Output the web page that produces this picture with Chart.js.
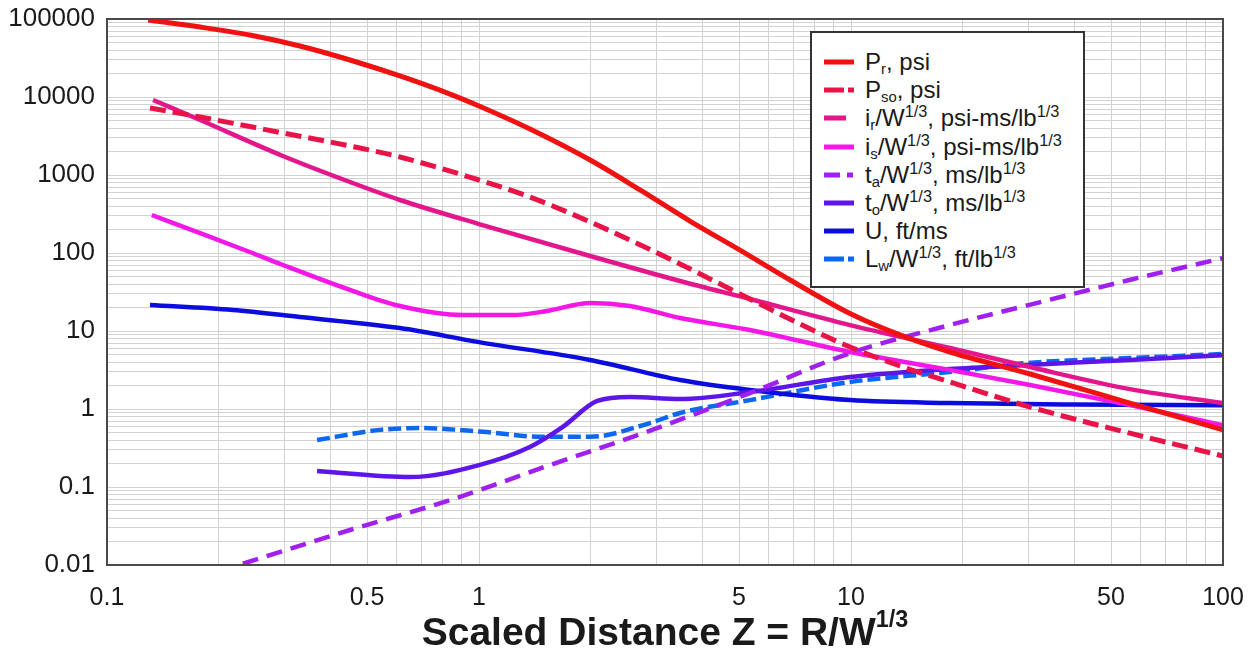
<!DOCTYPE html>
<html><head><meta charset="utf-8">
<script src="https://cdn.jsdelivr.net/npm/chart.js@4.4.0/dist/chart.umd.min.js"></script>
<style>
html,body{margin:0;padding:0;background:#fff;}
#wrap{position:relative;width:1255px;height:654px;overflow:hidden;}
#c{position:absolute;left:0;top:0;}
#legend{position:absolute;left:810px;top:31px;width:275px;height:257px;border:2px solid #333;background:#fff;box-sizing:border-box;font-family:"Liberation Sans",Arial,sans-serif;font-size:24px;color:#1a1a1a;}
.row{position:absolute;left:12px;height:28px;display:flex;align-items:center;white-space:nowrap;line-height:1;}
.row svg{margin-right:9px;flex:none;}
sup{font-size:0.68em;vertical-align:0.55em;line-height:0;}
sub{font-size:0.62em;vertical-align:-0.25em;line-height:0;}
#xtitle{position:absolute;left:107px;width:1116px;top:612px;text-align:center;font-family:"Liberation Sans",Arial,sans-serif;font-weight:bold;font-size:39px;color:#1a1a1a;line-height:1;}
#xtitle sup{font-size:0.6em;vertical-align:0.75em;}
</style>
</head><body>
<div id="wrap">
<canvas id="c" width="1255" height="654"></canvas>
<div id="legend"></div>
<div id="xtitle">Scaled Distance Z = R/W<sup>1/3</sup></div>
</div>
<script>
// ---- data ----
const prZ  = [0.129, 0.178, 0.242, 0.330, 0.450, 0.613, 0.836, 1.0, 1.371, 1.99, 2.71, 3.69, 5.03, 6.86, 10, 13.54, 18.46, 30.3, 56.2, 100];
const prV  = [97000, 78900, 62300, 45050, 29800, 18600, 10900, 7670, 3890, 1556, 643, 257, 109, 45.1, 16.5, 8.9, 5.38, 2.81, 1.19, 0.54];

const psoZ = [0.1305, 0.178, 0.297, 0.450, 0.613, 1.0, 1.371, 1.99, 3.47, 5.35, 7.29, 9.94, 13.54, 18.46, 30.3, 56.2, 100];
const psoV = [7230, 5540, 3455, 2355, 1702, 863, 522, 250, 72.3, 25.7, 12.3, 6.24, 3.56, 2.22, 1.06, 0.49, 0.25];

const irZ  = [0.133, 0.178, 0.297, 0.450, 0.613, 1.0, 1.99, 3.47, 5.35, 9.94, 18.46, 30.3, 56.2, 100];
const irV  = [9160, 5070, 1753, 813, 478, 235, 91.6, 43.8, 25.7, 11.9, 6.05, 3.45, 1.80, 1.19];

const isZ  = [0.132, 0.178, 0.242, 0.297, 0.450, 0.613, 0.906, 1.234, 1.52, 1.99, 2.546, 3.47, 5.35, 9.94, 18.46, 30.3, 56.2, 100];
const isV  = [307, 180, 103, 70.2, 33.6, 20.9, 16.0, 16.0, 18.0, 22.9, 20.9, 14.7, 10.3, 5.38, 3.16, 2.03, 1.12, 0.62];

const taZ  = [0.2, 0.45, 0.836, 1.55, 2.76, 5.35, 9.94, 18.4, 30, 56, 100];
const taV  = [0.0083, 0.0281, 0.068, 0.191, 0.49, 1.60, 5.2, 11.9, 21.5, 45, 86];

const toZ  = [0.367, 0.653, 1.0, 1.37, 1.68, 2.08, 2.55, 3.47, 5.35, 9.94, 18.4, 30, 56, 100];
const toV  = [0.16, 0.134, 0.191, 0.326, 0.59, 1.27, 1.43, 1.34, 1.65, 2.57, 3.26, 3.67, 4.25, 4.9];

const uZ   = [0.1305, 0.218, 0.33, 0.613, 1.0, 1.99, 3.47, 5.35, 9.94, 18.4, 40, 100];
const uV   = [21.5, 18.6, 15.1, 10.9, 7.2, 4.25, 2.35, 1.75, 1.30, 1.19, 1.14, 1.12];

const lwZ  = [0.367, 0.542, 0.694, 1.025, 1.486, 1.99, 2.88, 3.47, 5.35, 9.94, 18.4, 30, 56, 100];
const lwV  = [0.40, 0.54, 0.57, 0.51, 0.44, 0.44, 0.66, 0.89, 1.30, 2.22, 2.98, 3.9, 4.5, 5.07];

const xTickValues = [0.1, 0.5, 1, 5, 10, 50, 100];
const xTickLabels = ['0.1', '0.5', '1', '5', '10', '50', '100'];
const yTickValues = [0.01, 0.1, 1, 10, 100, 1000, 10000, 100000];
const yTickLabels = ['0.01', '0.1', '1', '10', '100', '1000', '10000', '100000'];

const seriesNames = [
  'P<sub>r</sub>, psi',
  'P<sub>so</sub>, psi',
  'i<sub>r</sub>/W<sup>1/3</sup>, psi-ms/lb<sup>1/3</sup>',
  'i<sub>s</sub>/W<sup>1/3</sup>, psi-ms/lb<sup>1/3</sup>',
  't<sub>a</sub>/W<sup>1/3</sup>, ms/lb<sup>1/3</sup>',
  't<sub>o</sub>/W<sup>1/3</sup>, ms/lb<sup>1/3</sup>',
  'U, ft/ms',
  'L<sub>w</sub>/W<sup>1/3</sup>, ft/lb<sup>1/3</sup>'
];

// ---- styles ----
const styles = [
  {color:'rgb(240,18,18)',  width:5,   dash:[]},
  {color:'rgb(232,20,72)',  width:5,   dash:[16,7]},
  {color:'rgb(228,22,140)', width:4.5, dash:[]},
  {color:'rgb(244,24,232)', width:4.5, dash:[]},
  {color:'rgb(160,32,240)', width:4.5, dash:[16,9]},
  {color:'rgb(92,22,232)',  width:4.5, dash:[]},
  {color:'rgb(12,12,220)',  width:4.5, dash:[]},
  {color:'rgb(12,104,240)', width:4.5, dash:[13,5]}
];
const legendDash = [[], [20,4,6,4], [22,60], [], [16,7,6,20], [], [], [20,4,6,4]];

const pairs = [[prZ,prV],[psoZ,psoV],[irZ,irV],[isZ,isV],[taZ,taV],[toZ,toV],[uZ,uV],[lwZ,lwV]];
const datasets = pairs.map((p,i)=>({
  label: seriesNames[i].replace(/<[^>]+>/g,''),
  data: p[0].map((z,j)=>({x:z, y:p[1][j]})),
  borderColor: styles[i].color,
  borderWidth: styles[i].width,
  borderDash: styles[i].dash,
  borderCapStyle: 'butt',
  pointRadius: 0,
  fill: false,
  cubicInterpolationMode: 'monotone',
  tension: 0.4
}));

function decadeTicks(minE, maxE){
  const t = [];
  for (let e=minE; e<maxE; e++) for (let m=1; m<=9; m++) t.push({value: parseFloat((m*Math.pow(10,e)).toPrecision(6))});
  t.push({value: Math.pow(10,maxE)});
  return t;
}
function labelFor(vals, labs, v){
  const k = vals.findIndex(a => Math.abs(a-v)/a < 1e-6);
  return k>=0 ? labs[k] : '';
}

const frame = {
  id:'frame',
  afterDatasetsDraw(chart){
    const {ctx, chartArea:a} = chart;
    ctx.save(); ctx.strokeStyle='#4a4a4a'; ctx.lineWidth=2;
    ctx.strokeRect(a.left, a.top, a.right-a.left, a.bottom-a.top);
    ctx.restore();
  }
};

new Chart(document.getElementById('c'), {
  type:'line',
  data:{datasets},
  options:{
    responsive:false, animation:false, devicePixelRatio:1,
    layout:{padding:{top:19, right:32, left:0, bottom:0}},
    plugins:{legend:{display:false}, title:{display:false}, tooltip:{enabled:false}},
    scales:{
      x:{type:'logarithmic', min:0.1, max:100,
        afterBuildTicks: s => { s.ticks = decadeTicks(-1,2); },
        afterFit: s => { s.height = 89; s.paddingLeft = 0; s.paddingRight = 0; },
        grid:{color:'#d2d2d2', lineWidth:1, drawTicks:false},
        border:{display:false},
        ticks:{autoSkip:false, maxRotation:0, padding:18, color:'#1a1a1a',
          font:{family:'"Liberation Sans", Arial, sans-serif', size:25},
          callback: v => labelFor(xTickValues, xTickLabels, v)}
      },
      y:{type:'logarithmic', min:0.01, max:100000,
        afterBuildTicks: s => { s.ticks = decadeTicks(-2,5); },
        afterFit: s => { s.width = 107; s.paddingTop = 0; s.paddingBottom = 0; },
        grid:{color:'#d2d2d2', lineWidth:1, drawTicks:false},
        border:{display:false},
        ticks:{autoSkip:false, padding:12, color:'#1a1a1a',
          font:{family:'"Liberation Sans", Arial, sans-serif', size:26},
          callback: v => labelFor(yTickValues, yTickLabels, v)}
      }
    }
  },
  plugins:[frame]
});

// ---- legend (HTML for sub/superscripts) ----
const lg = document.getElementById('legend');
seriesNames.forEach((n,i)=>{
  const r = document.createElement('div');
  r.className='row';
  r.style.top = (15 + i*28.2) + 'px';
  const d = legendDash[i].length ? ` stroke-dasharray="${legendDash[i].join(' ')}"` : '';
  r.innerHTML = `<svg width="32" height="10"><line x1="0" y1="5" x2="30" y2="5" stroke="${styles[i].color}" stroke-width="5"${d}/></svg><span>${n}</span>`;
  lg.appendChild(r);
});
</script>
</body></html>
